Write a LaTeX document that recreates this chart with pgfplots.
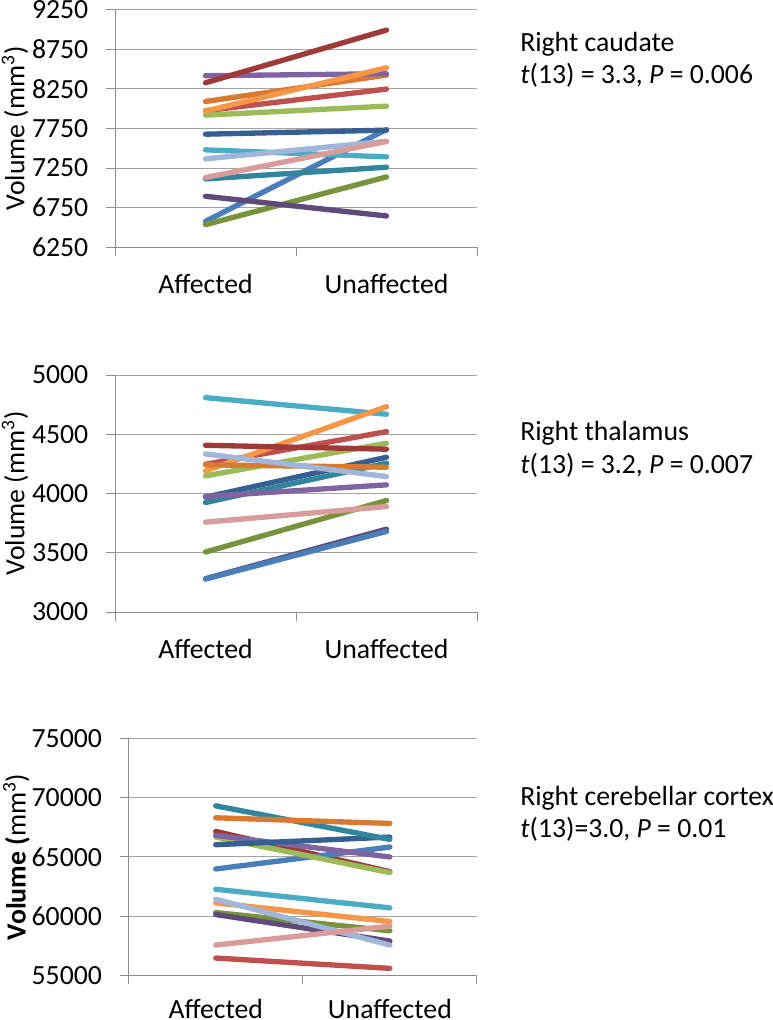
\documentclass[border=0pt]{standalone}
\usepackage{pgfplots}
\pgfplotsset{compat=1.18}
\usepackage{fontspec}
\setmainfont{Carlito}
\definecolor{c1}{HTML}{4A7EBB}
\definecolor{c2}{HTML}{C0504D}
\definecolor{c3}{HTML}{9BBB59}
\definecolor{c4}{HTML}{8064A2}
\definecolor{c5}{HTML}{4BACC6}
\definecolor{c6}{HTML}{F79646}
\definecolor{c7}{HTML}{376092}
\definecolor{c8}{HTML}{9E3B39}
\definecolor{c9}{HTML}{77933C}
\definecolor{c10}{HTML}{604A7B}
\definecolor{c11}{HTML}{31859C}
\definecolor{c12}{HTML}{D97A30}
\definecolor{c13}{HTML}{A0B6DA}
\definecolor{c14}{HTML}{D99C9A}
\definecolor{gridgray}{HTML}{8C8C8C}
\newcommand{\fs}{\fontsize{20.8}{25}\selectfont}
\pgfplotsset{
  panel/.style={
    scale only axis, height=177.75pt, anchor=south west,
    xmin=0, xmax=2,
    axis x line*=bottom, axis y line*=left,
    xtick={0,1,2}, xticklabels={,,},
    extra x ticks={0.5,1.5}, extra x tick labels={Affected,Unaffected},
    extra x tick style={major tick length=0pt},
    tick align=outside, major tick length=6.75pt,
    ymajorgrids,
    grid style={line width=0.75pt, color=gridgray!80},
    axis line style={line width=0.75pt, color=gridgray},
    every tick/.style={line width=0.75pt, color=gridgray},
    tick label style={font=\fs},
    yticklabel style={xshift=-9.75pt},
    /pgf/number format/assume math mode=true,
    /pgf/number format/1000 sep={},
    scaled y ticks=false,
    every axis plot/.append style={line width=4pt, line cap=round, line join=round, mark=none},
    clip=false,
  }
}
\begin{document}
\begin{tikzpicture}
\useasboundingbox (0,0) rectangle (579.75pt,-765pt);
% Panel 1: Right caudate
\begin{axis}[panel, at={(86.25pt,-185.25pt)}, width=271.5pt,
  xticklabel style={yshift=-17pt},
  ymin=6250, ymax=9250, ytick={6250,6750,...,9250},
  ylabel={Volume (mm\textsuperscript{3})},
  every axis y label/.style={at={(axis description cs:-0.2762,0.5)}, rotate=90, anchor=center, font=\fs}]
\addplot[c12] coordinates {(0.5,8092) (1.5,8426)};
\addplot[c1]  coordinates {(0.5,6575) (1.5,7737)};
\addplot[c2]  coordinates {(0.5,7975) (1.5,8249)};
\addplot[c3]  coordinates {(0.5,7919) (1.5,8033)};
\addplot[c4]  coordinates {(0.5,8418) (1.5,8443)};
\addplot[c5]  coordinates {(0.5,7480) (1.5,7391)};
\addplot[c6]  coordinates {(0.5,7970) (1.5,8519)};
\addplot[c7]  coordinates {(0.5,7678) (1.5,7729)};
\addplot[c8]  coordinates {(0.5,8329) (1.5,8996)};
\addplot[c9]  coordinates {(0.5,6533) (1.5,7137)};
\addplot[c10] coordinates {(0.5,6892) (1.5,6643)};
\addplot[c11] coordinates {(0.5,7112) (1.5,7260)};
\addplot[c13] coordinates {(0.5,7366) (1.5,7588)};
\addplot[c14] coordinates {(0.5,7129) (1.5,7585)};
\end{axis}
% Panel 2: Right thalamus
\begin{axis}[panel, at={(86.25pt,-459pt)}, width=271.5pt,
  xticklabel style={yshift=-17pt},
  ymin=3000, ymax=5000, ytick={3000,3500,...,5000},
  ylabel={Volume (mm\textsuperscript{3})},
  every axis y label/.style={at={(axis description cs:-0.2762,0.5)}, rotate=90, anchor=center, font=\fs}]
\addplot[c10] coordinates {(0.5,3281) (1.5,3699)};
\addplot[c1]  coordinates {(0.5,3278) (1.5,3680)};
\addplot[c2]  coordinates {(0.5,4247) (1.5,4522)};
\addplot[c3]  coordinates {(0.5,4149) (1.5,4424)};
\addplot[c5]  coordinates {(0.5,4809) (1.5,4669)};
\addplot[c6]  coordinates {(0.5,4191) (1.5,4733)};
\addplot[c7]  coordinates {(0.5,3969) (1.5,4306)};
\addplot[c11] coordinates {(0.5,3924) (1.5,4256)};
\addplot[c4]  coordinates {(0.5,3975) (1.5,4073)};
\addplot[c8]  coordinates {(0.5,4407) (1.5,4374)};
\addplot[c9]  coordinates {(0.5,3506) (1.5,3941)};
\addplot[c12] coordinates {(0.5,4242) (1.5,4222)};
\addplot[c13] coordinates {(0.5,4334) (1.5,4143)};
\addplot[c14] coordinates {(0.5,3758) (1.5,3890)};
\end{axis}
% Panel 3: Right cerebellar cortex
\begin{axis}[panel, at={(96.5pt,-731.5pt)}, width=261.2pt,
  xticklabel style={inner sep=0pt, yshift=-18pt},
  ymin=55000, ymax=75000, ytick={55000,60000,...,75000},
  ylabel={\textbf{Volume (}mm\textsuperscript{3})},
  every axis y label/.style={at={(axis description cs:-0.322,0.5)}, rotate=90, anchor=center, font=\fs}]
\addplot[c8]  coordinates {(0.5,67146) (1.5,63750)};
\addplot[c1]  coordinates {(0.5,63976) (1.5,65828)};
\addplot[c2]  coordinates {(0.5,56459) (1.5,55589)};
\addplot[c3]  coordinates {(0.5,66669) (1.5,63668)};
\addplot[c4]  coordinates {(0.5,66809) (1.5,64986)};
\addplot[c5]  coordinates {(0.5,62265) (1.5,60695)};
\addplot[c6]  coordinates {(0.5,61115) (1.5,59544)};
\addplot[c7]  coordinates {(0.5,66024) (1.5,66669)};
\addplot[c9]  coordinates {(0.5,60302) (1.5,58760)};
\addplot[c10] coordinates {(0.5,60133) (1.5,57890)};
\addplot[c11] coordinates {(0.5,69306) (1.5,66473)};
\addplot[c12] coordinates {(0.5,68296) (1.5,67819)};
\addplot[c13] coordinates {(0.5,61424) (1.5,57553)};
\addplot[c14] coordinates {(0.5,57553) (1.5,59152)};
\end{axis}
% Annotations
\node[anchor=base west, font=\fs, inner sep=0pt] at (390pt,-38.8pt) {Right caudate};
\node[anchor=base west, font=\fs, inner sep=0pt] at (390pt,-62.3pt) {\textit{t}(13) = 3.3, \textit{P} = 0.006};
\node[anchor=base west, font=\fs, inner sep=0pt] at (390pt,-330.4pt) {Right thalamus};
\node[anchor=base west, font=\fs, inner sep=0pt] at (390pt,-355.1pt) {\textit{t}(13) = 3.2, \textit{P} = 0.007};
\node[anchor=base west, font=\fs, inner sep=0pt] at (390pt,-603.8pt) {Right cerebellar cortex};
\node[anchor=base west, font=\fs, inner sep=0pt] at (390pt,-627.8pt) {\textit{t}(13)=3.0, \textit{P} = 0.01};
\end{tikzpicture}
\end{document}
